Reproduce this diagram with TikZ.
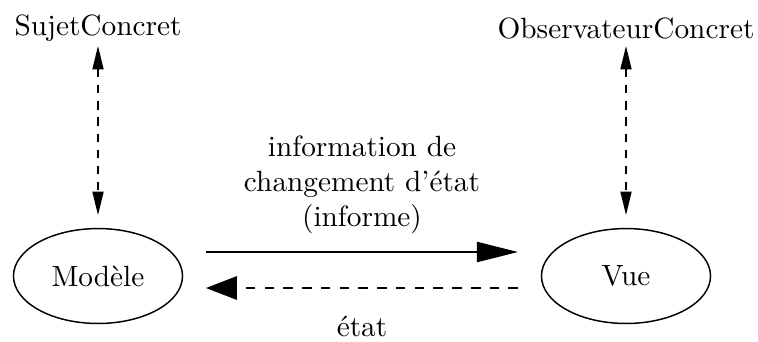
\documentclass[tikz,border=0pt]{standalone}
\usetikzlibrary{arrows.meta,shapes.geometric}
\begin{document}
\begin{tikzpicture}[x=0.3413pt,y=-0.3413pt,
  lbl/.style={inner sep=0pt,font=\normalsize},
  elli/.style={draw,ellipse,minimum width=57.7pt,minimum height=32.4pt,inner sep=0pt,line width=0.5pt},
  vdash/.style={dash pattern=on 2.8pt off 2.7pt,line width=0.45pt,{Triangle[length=8pt,width=3.8pt]}-{Triangle[length=8pt,width=3.8pt]}},
  solidarr/.style={line width=0.8pt,-{Triangle[length=14pt,width=6.8pt]}},
  dasharr/.style={dash pattern=on 3.3pt off 3.1pt,line width=0.45pt,-{Triangle[length=10.5pt,width=8pt]}}]
\useasboundingbox (0,0) rectangle (758,341);
\node[lbl] (sc) at (98,28) {SujetConcret};
\node[lbl] (oc) at (626,28) {ObservateurConcret};
\node[elli] (m) at (98,276) {Modèle};
\node[elli] (v) at (626,276) {Vue};
\coordinate (sct) at (98,46);
\coordinate (scb) at (98,215);
\coordinate (oct) at (626,46);
\coordinate (ocb) at (626,215);
\draw[vdash] (sct) -- (scb);
\draw[vdash] (oct) -- (ocb);
\coordinate (a1) at (206,252);
\coordinate (a2) at (518,252);
\coordinate (b1) at (518,288);
\coordinate (b2) at (206,288);
\draw[solidarr] (a1) -- (a2);
\draw[dasharr] (b1) -- (b2);
\node[lbl,align=center] (info) at (362,185) {information de\\changement d'état\\(informe)};
\node[lbl] (etat) at (362,326) {état};
\end{tikzpicture}
\end{document}
